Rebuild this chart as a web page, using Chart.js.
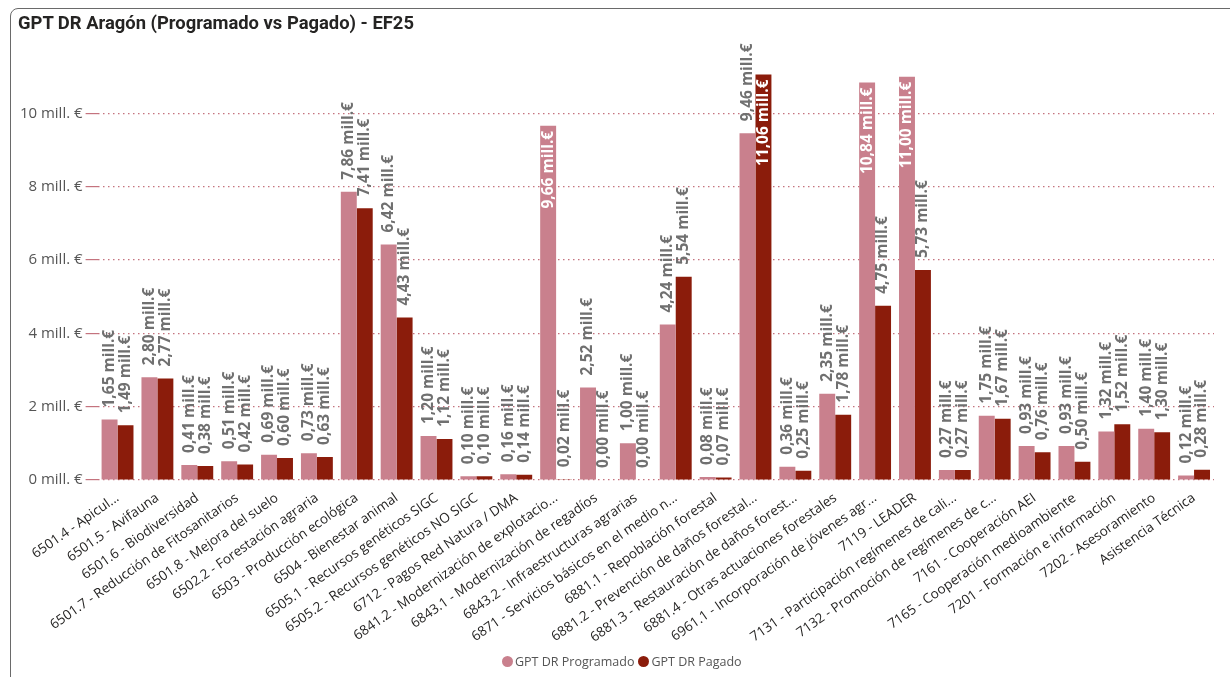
<!DOCTYPE html>
<html>
<head>
<meta charset="utf-8">
<script src="https://cdn.jsdelivr.net/npm/chart.js@4"></script>
<style>
  html, body { margin: 0; padding: 0; width: 1230px; height: 677px; overflow: hidden; background: #fff; }
  #frame { position: absolute; left: 10px; top: 8px; width: 1240px; height: 700px; border: 1.5px solid #6a6a6a; border-radius: 8px; box-sizing: border-box; }
  #title { position: absolute; left: 18px; top: 12px; font-family: "Roboto", "DejaVu Sans", sans-serif; font-weight: 700; font-size: 18.4px; color: #252423; }
  #wrap { position: absolute; left: 0; top: 0; width: 1230px; height: 677px; }
  #legend { position: absolute; left: 502px; top: 654px; font-family: "Open Sans", sans-serif; font-size: 12.5px; color: #555; white-space: nowrap; line-height: 16px; }
  #legend .it { display: inline-block; margin-right: 4px; }
  #legend .dot { display: inline-block; width: 11px; height: 11px; border-radius: 50%; vertical-align: -1px; margin-right: 2px; }
</style>
</head>
<body>
<div id="frame"></div>
<div id="wrap"><canvas id="c" width="1230" height="677"></canvas></div>
<div id="title">GPT DR Aragón (Programado vs Pagado) - EF25</div>
<div id="legend"></div>
<script>
const categories = [
  "6501.4 - Apicul...",
  "6501.5 - Avifauna",
  "6501.6 - Biodiversidad",
  "6501.7 - Reducción de Fitosanitarios",
  "6501.8 - Mejora del suelo",
  "6502.2 - Forestación agraria",
  "6503 - Producción ecológica",
  "6504 - Bienestar animal",
  "6505.1 - Recursos genéticos SIGC",
  "6505.2 - Recursos genéticos NO SIGC",
  "6712 - Pagos Red Natura / DMA",
  "6841.2 - Modernización de explotacio...",
  "6843.1 - Modernización de regadíos",
  "6843.2 - Infraestructuras agrarias",
  "6871 - Servicios básicos en el medio n...",
  "6881.1 - Repoblación forestal",
  "6881.2 - Prevención de daños forestal...",
  "6881.3 - Restauración de daños forest...",
  "6881.4 - Otras actuaciones forestales",
  "6961.1 - Incorporación de jóvenes agr...",
  "7119 - LEADER",
  "7131 - Participación regímenes de cali...",
  "7132 - Promoción de regímenes de c...",
  "7161 - Cooperación AEI",
  "7165 - Cooperación medioambiente",
  "7201 - Formación e información",
  "7202 - Asesoramiento",
  "Asistencia Técnica"
];
const programado = [1.65, 2.80, 0.41, 0.51, 0.69, 0.73, 7.86, 6.42, 1.20, 0.10, 0.16, 9.66, 2.52, 1.00, 4.24, 0.08, 9.46, 0.36, 2.35, 10.84, 11.00, 0.27, 1.75, 0.93, 0.93, 1.32, 1.40, 0.12];
const pagado     = [1.49, 2.77, 0.38, 0.42, 0.60, 0.63, 7.41, 4.43, 1.12, 0.10, 0.14, 0.02, 0.00, 0.00, 5.54, 0.07, 11.06, 0.25, 1.78, 4.75, 5.73, 0.27, 1.67, 0.76, 0.50, 1.52, 1.30, 0.28];
const seriesNames = ["GPT DR Programado", "GPT DR Pagado"];
const yTicks = [0, 2, 4, 6, 8, 10];

const COL_PROG = "#C9808D";
const COL_PAG = "#8B1C0B";
const GRID = "rgba(190,100,112,0.9)";

function fmt(v) { return v.toFixed(2).replace(".", ",") + " mill.€"; }

const labelPlugin = {
  id: "barLabels",
  afterDatasetsDraw(chart) {
    const ctx = chart.ctx;
    const top = chart.chartArea.top;
    ctx.save();
    ctx.font = "bold 15.5px 'Open Sans', 'DejaVu Sans', sans-serif";
    ctx.textBaseline = "middle";
    chart.data.datasets.forEach((ds, di) => {
      const meta = chart.getDatasetMeta(di);
      meta.data.forEach((bar, i) => {
        const v = ds.data[i];
        const txt = fmt(v);
        const w = ctx.measureText(txt).width;
        const gap = 12;
        ctx.save();
        ctx.translate(bar.x, bar.y);
        ctx.rotate(-Math.PI / 2);
        if (bar.y - gap - w < top) {
          ctx.fillStyle = "#ffffff";
          ctx.textAlign = "right";
          ctx.fillText(txt, -5, 0);
        } else {
          ctx.fillStyle = "#707070";
          ctx.textAlign = "left";
          ctx.fillText(txt, gap, 0);
        }
        ctx.restore();
      });
    });
    ctx.restore();
  }
};

const chart = new Chart(document.getElementById("c"), {
  type: "bar",
  data: {
    labels: categories,
    datasets: [
      { label: seriesNames[0], data: programado, backgroundColor: COL_PROG, borderWidth: 0, categoryPercentage: 0.8, barPercentage: 1.0 },
      { label: seriesNames[1], data: pagado, backgroundColor: COL_PAG, borderWidth: 0, categoryPercentage: 0.8, barPercentage: 1.0 }
    ]
  },
  options: {
    responsive: false,
    animation: false,
    layout: { padding: { top: 40, right: 16, left: 0, bottom: 0 } },
    plugins: {
      legend: { display: false },
      tooltip: { enabled: false }
    },
    scales: {
      x: {
        grid: { display: false },
        border: { display: false },
        ticks: {
          autoSkip: false, minRotation: 35, maxRotation: 35, padding: 2,
          color: "#252423", font: { family: "'Open Sans', sans-serif", size: 13.5 }
        },
        afterFit(s) { s.height = 197; }
      },
      y: {
        min: 0, max: 12,
        afterBuildTicks(s) { s.ticks = yTicks.concat([12]).map(v => ({ value: v })); },
        grid: {
          color: (c) => (c.tick && c.tick.value === 12) ? "rgba(0,0,0,0)" : GRID,
          lineWidth: 1.2, tickLength: 12, drawTicks: true
        },
        border: { display: false, dash: [1.5, 3.5] },
        ticks: {
          color: "#555", padding: 3,
          font: { family: "'Open Sans', sans-serif", size: 15 },
          callback: (v) => v === 12 ? "" : v + " mill. €"
        },
        afterFit(s) { s.width = 97.6; }
      }
    }
  },
  plugins: [labelPlugin]
});

// legend built from the chart's datasets
const lg = document.getElementById("legend");
chart.data.datasets.forEach(ds => {
  const it = document.createElement("span");
  it.className = "it";
  const dot = document.createElement("span");
  dot.className = "dot";
  dot.style.background = ds.backgroundColor;
  it.appendChild(dot);
  it.appendChild(document.createTextNode(ds.label));
  lg.appendChild(it);
});
</script>
</body>
</html>
